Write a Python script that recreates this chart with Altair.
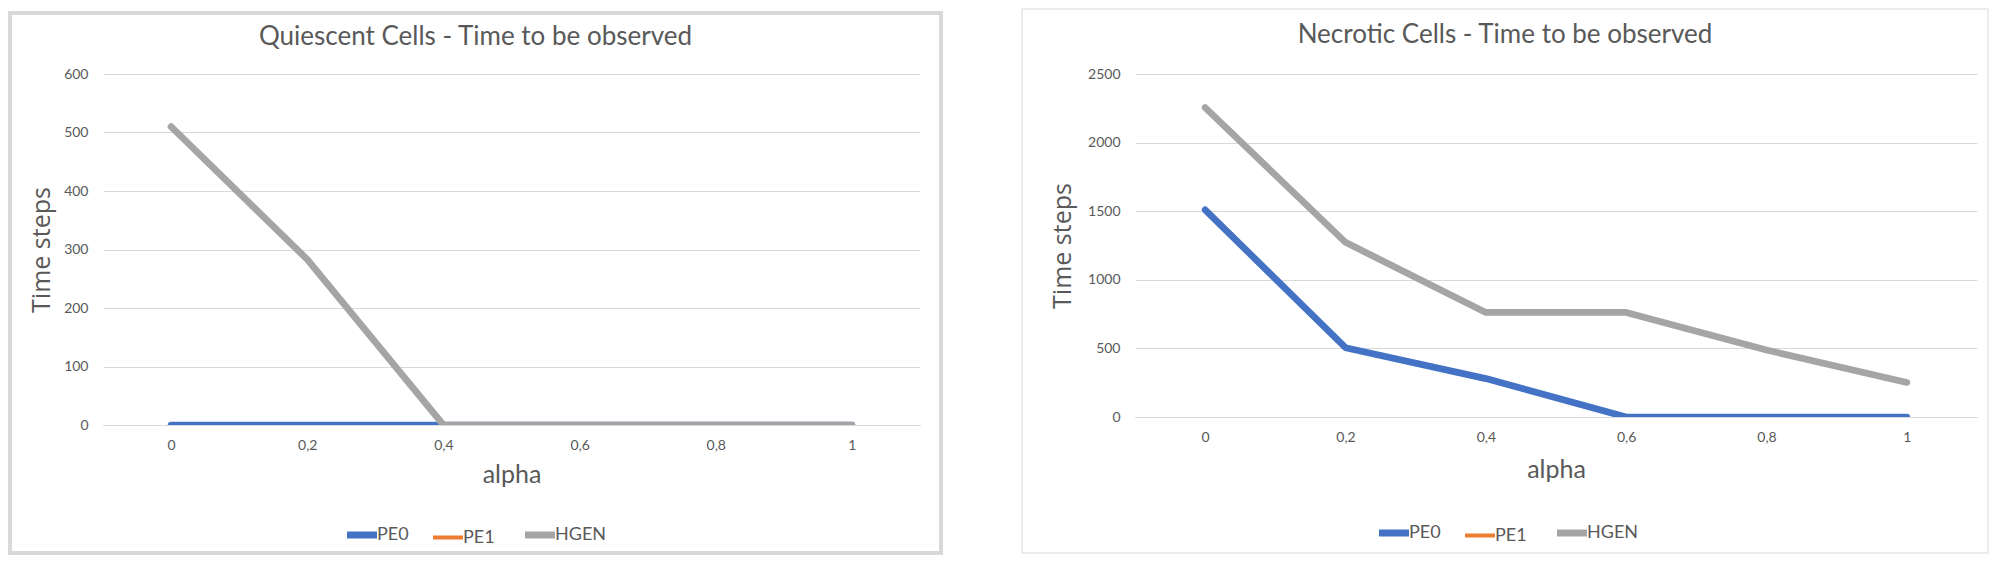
import altair as alt
import pandas as pd

# ---- data ----
alpha_labels = ["0", "0,2", "0,4", "0,6", "0,8", "1"]
series_names = ["PE0", "PE1", "HGEN"]
series_colors = ["#4472C4", "#ED7D31", "#A5A5A5"]

quiescent_pe0 = [0, 0, 0, 0, 0, 0]
quiescent_pe1 = [None, None, None, None, None, None]
quiescent_hgen = [510, 283, 0, 0, 0, 0]

necrotic_pe0 = [1510, 505, 280, 0, 0, 0]
necrotic_pe1 = [None, None, None, None, None, None]
necrotic_hgen = [2255, 1273, 762, 762, 488, 252]

quiescent_ticks = [0, 100, 200, 300, 400, 500, 600]
necrotic_ticks = [0, 500, 1000, 1500, 2000, 2500]

TEXT = "#595959"
GRID = "#D9D9D9"
FONT = "Lato"


def long_table(pe0, pe1, hgen):
    rows = []
    for name, vals in zip(series_names, [pe0, pe1, hgen]):
        for a, v in zip(alpha_labels, vals):
            rows.append({"alpha": a, "series": name, "value": v})
    return pd.DataFrame(rows)


def panel(df, title, ticks, w, h, box, legend_xy, ytitle_x, xtitle_y, box_stroke):
    ymax = ticks[-1]
    base = alt.Chart(df)
    lines = base.mark_line(
        strokeWidth=6.75, strokeCap="round", strokeJoin="round", clip=True
    ).encode(
        x=alt.X(
            "alpha:N",
            sort=alpha_labels,
            title="alpha",
            scale=alt.Scale(padding=0.5),
            axis=alt.Axis(
                labelAngle=0,
                labelFont=FONT,
                labelFontSize=14,
                labelColor=TEXT,
                labelPadding=13,
                ticks=False,
                domain=True,
                domainColor=GRID,
                grid=False,
                titleFont=FONT,
                titleFontSize=25,
                titleFontWeight="normal",
                titleColor=TEXT,
                titleBaseline="middle",
                titleY=xtitle_y,
            ),
        ),
        y=alt.Y(
            "value:Q",
            title="Time steps",
            scale=alt.Scale(domain=[0, ymax], nice=False),
            axis=alt.Axis(
                values=ticks,
                format="d",
                labelFont=FONT,
                labelFontSize=14,
                labelColor=TEXT,
                labelPadding=15,
                ticks=False,
                domain=False,
                grid=True,
                gridColor=GRID,
                gridWidth=1,
                titleFont="Open Sans",
                titleFontSize=25,
                titleFontWeight="normal",
                titleColor=TEXT,
                titleX=ytitle_x,
                titleY=h / 2,
                titleAlign="center",
                titleBaseline="middle",
            ),
        ),
        color=alt.Color(
            "series:N",
            sort=series_names,
            scale=alt.Scale(domain=series_names, range=series_colors),
            legend=alt.Legend(
                title=None,
                orient="none",
                legendX=legend_xy[0],
                legendY=legend_xy[1],
                direction="horizontal",
                symbolType="stroke",
                symbolSize=900,
                symbolStrokeWidth=alt.ExprRef("datum.value === 'PE1' ? 4 : 7"),
                labelFont=FONT,
                labelFontSize=18,
                labelColor=TEXT,
                labelOffset=6,
                columnPadding=16,
            ),
        ),
        detail="series:N",
    )
    frame = alt.Chart(alt.Data(values=[{}])).mark_rect(
        fill=None, stroke=GRID, strokeWidth=box_stroke
    ).encode(
        x=alt.value(box[0]),
        x2=alt.value(box[1]),
        y=alt.value(box[2]),
        y2=alt.value(box[3]),
    )
    return alt.layer(frame, lines).properties(
        width=w,
        height=h,
        title=alt.TitleParams(
            title,
            font=FONT,
            fontSize=26,
            fontWeight="normal",
            color=TEXT,
            baseline="middle",
            frame="bounds",
            offset=-52,
        ),
    )


q_df = long_table(quiescent_pe0, quiescent_pe1, quiescent_hgen)
n_df = long_table(necrotic_pe0, necrotic_pe1, necrotic_hgen)

left = panel(q_df, "Quiescent Cells - Time to be observed", quiescent_ticks,
             817, 351, (-93, 838, -61, 479), (250, 452), -62, 49, 4)
right = panel(n_df, "Necrotic Cells - Time to be observed", necrotic_ticks,
              842, 343, (-113, 853, -65, 479), (250, 450), -73, 52, 1)

chart = alt.hconcat(left, right, spacing=78).resolve_scale(
    color="independent"
).resolve_legend(color="independent").properties(
    padding=0, background="white"
).configure_view(stroke=None)

chart.save("out.html", embed_options={"renderer": "svg", "actions": False})
